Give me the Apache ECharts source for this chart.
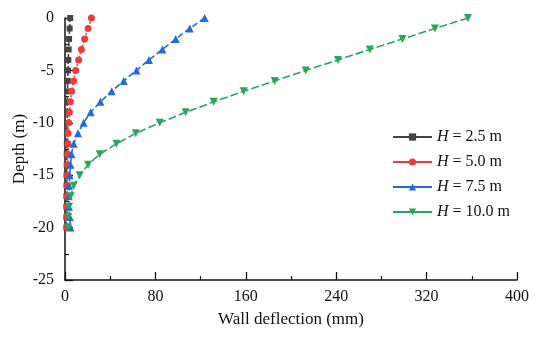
<!DOCTYPE html>
<html>
<head>
<meta charset="utf-8">
<script src="https://cdn.jsdelivr.net/npm/echarts@6/dist/echarts.min.js"></script>
<style>html,body{margin:0;padding:0;background:#fff}#c{width:550px;height:338px}</style>
</head>
<body>
<div id="c"></div>
<script>
const depths = [0,-1,-2,-3,-4,-5,-6,-7,-8,-9,-10,-11,-12,-13,-14,-15,-16,-17,-18,-19,-20];
const h25 = [4.6,4.1,3.6,3.2,2.9,2.6,2.4,2.2,2.0,1.9,1.8,1.7,1.6,1.5,1.5,1.4,1.4,1.3,1.3,1.3,1.3];
const h50 = [23.4,20.4,17.4,14.5,12.1,9.5,7.7,5.9,4.8,3.9,3.3,2.8,2.6,2.4,2.2,2.0,1.9,1.8,1.7,1.7,1.7];
const h75 = [123.6,110.4,98.0,86.2,74.3,63.2,52.0,41.3,31.3,22.7,16.5,11.5,7.7,5.7,4.8,4.2,3.6,3.3,3.5,4.2,4.8];
const h100 = [356.6,327.4,298.6,269.8,241.6,213.0,185.6,158.1,131.6,106.8,83.8,62.6,45.5,30.7,20.4,13.0,7.7,5.0,3.6,3.0,2.7];
const seriesNames = ['H = 2.5 m','H = 5.0 m','H = 7.5 m','H = 10.0 m'];
const xTicks = {min:0, max:400, interval:80};
const yTicks = {min:-25, max:0, interval:5};

const font = '"Liberation Serif","Times New Roman",serif';
const chart = echarts.init(document.getElementById('c'), null, {renderer:'canvas'});
const pairs = arr => arr.map((v,i)=>[v, depths[i]]);
const mk = (name, arr, color, symbol, size, ltype) => ({
  name, type:'line', data: pairs(arr), symbol, symbolSize:size,
  itemStyle:{color}, lineStyle:{color, width:1.6, type:ltype}, clip:true, z:2
});
chart.setOption({
  animation:false,
  backgroundColor:'#fff',
  grid:{left:65, right:33, top:18, bottom:58, containLabel:false, outerBoundsMode:'none'},
  xAxis:{
    type:'value', min:xTicks.min, max:xTicks.max, interval:xTicks.interval,
    name:'Wall deflection (mm)', nameLocation:'middle', nameGap:31, nameMoveOverlap:false,
    nameTextStyle:{fontFamily:font, fontSize:17, color:'#111'},
    axisLine:{show:true, onZero:false, lineStyle:{color:'#111', width:1.5}},
    axisTick:{show:true, inside:true, length:8, lineStyle:{color:'#111', width:1.3}},
    minorTick:{show:true, splitNumber:2, length:4, lineStyle:{color:'#111', width:1.2}},
    axisLabel:{fontFamily:font, fontSize:16, color:'#111', margin:9},
    splitLine:{show:false}
  },
  yAxis:{
    type:'value', min:yTicks.min, max:yTicks.max, interval:yTicks.interval,
    name:'Depth (m)', nameLocation:'middle', nameGap:37, nameRotate:90, nameMoveOverlap:false,
    nameTextStyle:{fontFamily:font, fontSize:17, color:'#111'},
    axisLine:{show:true, onZero:false, lineStyle:{color:'#111', width:1.5}},
    axisTick:{show:true, inside:true, length:8, lineStyle:{color:'#111', width:1.3}},
    minorTick:{show:true, splitNumber:2, length:4, lineStyle:{color:'#111', width:1.2}},
    axisLabel:{fontFamily:font, fontSize:16, color:'#111', margin:11},
    splitLine:{show:false}
  },
  legend:{
    orient:'vertical', left:387, top:124, itemGap:9, itemWidth:39, itemHeight:9,
    lineStyle:{type:'solid'},
    formatter: n => '{i|H}' + n.slice(1),
    textStyle:{fontFamily:font, fontSize:16, color:'#111',
      rich:{i:{fontFamily:font, fontSize:16, fontStyle:'italic', color:'#111'}}},
    data: seriesNames
  },
  series:[
    mk(seriesNames[0], h25, '#444444', 'rect', 6, [4,2]),
    mk(seriesNames[1], h50, '#ee3c3c', 'circle', 7, [2,2]),
    mk(seriesNames[2], h75, '#1f6bdc', 'triangle', 8, [6,3]),
    mk(seriesNames[3], h100, '#2aa65c', 'path://M0,0L10,0L5,9Z', 8, [8,3])
  ]
});
</script>
</body>
</html>
